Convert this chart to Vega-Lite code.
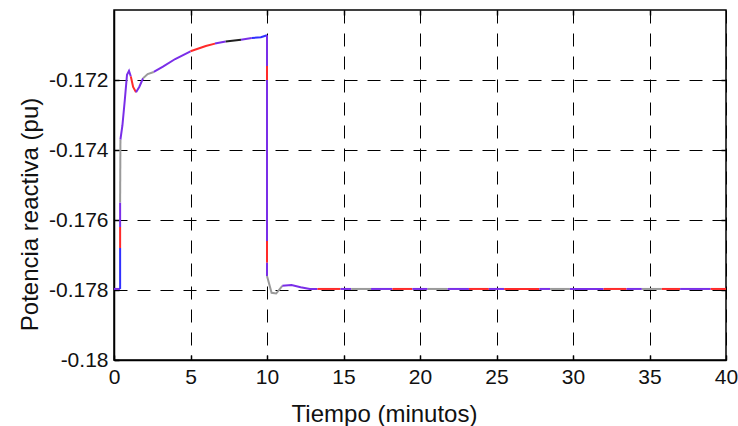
{
  "$schema": "https://vega.github.io/schema/vega-lite/v6.json",
  "width": 612,
  "height": 350,
  "autosize": {"type": "none"},
  "padding": {"left": 114, "top": 10, "right": 12, "bottom": 66},
  "background": "white",
  "config": {
    "font": "Liberation Sans",
    "view": {"stroke": "black", "strokeWidth": 1.5},
    "axis": {
      "domainColor": "black",
      "domainWidth": 1.5,
      "tickColor": "black",
      "tickWidth": 1.5,
      "tickSize": -5,
      "labelColor": "#111111",
      "labelFontSize": 21,
      "labelFont": "Liberation Sans",
      "titleFont": "Liberation Sans",
      "titleFontSize": 24,
      "titleFontWeight": "normal",
      "titleColor": "#111111",
      "gridColor": "black",
      "gridOpacity": 1,
      "gridWidth": 1,
      "gridDash": [13, 10],
      "labelFlush": false,
      "labelOverlap": false
    }
  },
  "data": {
    "values": [
      {"g": 1, "c": "m", "i": 0, "t": 0, "q": -0.17797},
      {"g": 1, "c": "m", "i": 1, "t": 0.4, "q": -0.17797},
      {"g": 2, "c": "b", "i": 1, "t": 0.4, "q": -0.17797},
      {"g": 2, "c": "b", "i": 2, "t": 0.4, "q": -0.1768},
      {"g": 3, "c": "r", "i": 2, "t": 0.4, "q": -0.1768},
      {"g": 3, "c": "r", "i": 3, "t": 0.4, "q": -0.1762},
      {"g": 4, "c": "m", "i": 3, "t": 0.4, "q": -0.1762},
      {"g": 4, "c": "m", "i": 4, "t": 0.4, "q": -0.1755},
      {"g": 5, "c": "g", "i": 4, "t": 0.4, "q": -0.1755},
      {"g": 5, "c": "g", "i": 5, "t": 0.42, "q": -0.1737},
      {"g": 6, "c": "m", "i": 5, "t": 0.42, "q": -0.1737},
      {"g": 6, "c": "m", "i": 6, "t": 0.55, "q": -0.1733},
      {"g": 6, "c": "m", "i": 7, "t": 0.7, "q": -0.1726},
      {"g": 6, "c": "m", "i": 8, "t": 0.85, "q": -0.17185},
      {"g": 6, "c": "m", "i": 9, "t": 0.98, "q": -0.17174},
      {"g": 6, "c": "m", "i": 10, "t": 1.1, "q": -0.1719},
      {"g": 7, "c": "r", "i": 10, "t": 1.1, "q": -0.1719},
      {"g": 7, "c": "r", "i": 11, "t": 1.25, "q": -0.1722},
      {"g": 7, "c": "r", "i": 12, "t": 1.44, "q": -0.17235},
      {"g": 8, "c": "m", "i": 12, "t": 1.44, "q": -0.17235},
      {"g": 8, "c": "m", "i": 13, "t": 1.65, "q": -0.1722},
      {"g": 8, "c": "m", "i": 14, "t": 1.9, "q": -0.17195},
      {"g": 9, "c": "g", "i": 14, "t": 1.9, "q": -0.17195},
      {"g": 9, "c": "g", "i": 15, "t": 2.2, "q": -0.17183},
      {"g": 9, "c": "g", "i": 16, "t": 2.6, "q": -0.17177},
      {"g": 10, "c": "m", "i": 16, "t": 2.6, "q": -0.17177},
      {"g": 10, "c": "m", "i": 17, "t": 3.2, "q": -0.17162},
      {"g": 10, "c": "m", "i": 18, "t": 4, "q": -0.1714},
      {"g": 10, "c": "m", "i": 19, "t": 5, "q": -0.17118},
      {"g": 11, "c": "r", "i": 19, "t": 5, "q": -0.17118},
      {"g": 11, "c": "r", "i": 20, "t": 6, "q": -0.17103},
      {"g": 11, "c": "r", "i": 21, "t": 6.6, "q": -0.17096},
      {"g": 12, "c": "m", "i": 21, "t": 6.6, "q": -0.17096},
      {"g": 12, "c": "m", "i": 22, "t": 7.3, "q": -0.1709},
      {"g": 13, "c": "k", "i": 22, "t": 7.3, "q": -0.1709},
      {"g": 13, "c": "k", "i": 23, "t": 8.3, "q": -0.17085},
      {"g": 14, "c": "m", "i": 23, "t": 8.3, "q": -0.17085},
      {"g": 14, "c": "m", "i": 24, "t": 9, "q": -0.1708},
      {"g": 15, "c": "b", "i": 24, "t": 9, "q": -0.1708},
      {"g": 15, "c": "b", "i": 25, "t": 9.6, "q": -0.17078},
      {"g": 15, "c": "b", "i": 26, "t": 10, "q": -0.17072},
      {"g": 16, "c": "m", "i": 26, "t": 10, "q": -0.17072},
      {"g": 16, "c": "m", "i": 27, "t": 10, "q": -0.1716},
      {"g": 17, "c": "r", "i": 27, "t": 10, "q": -0.1716},
      {"g": 17, "c": "r", "i": 28, "t": 10, "q": -0.172},
      {"g": 18, "c": "m", "i": 28, "t": 10, "q": -0.172},
      {"g": 18, "c": "m", "i": 29, "t": 10, "q": -0.1766},
      {"g": 19, "c": "r", "i": 29, "t": 10, "q": -0.1766},
      {"g": 19, "c": "r", "i": 30, "t": 10, "q": -0.17722},
      {"g": 20, "c": "m", "i": 30, "t": 10, "q": -0.17722},
      {"g": 20, "c": "m", "i": 31, "t": 10, "q": -0.1776},
      {"g": 21, "c": "g", "i": 31, "t": 10, "q": -0.1776},
      {"g": 21, "c": "g", "i": 32, "t": 10.05, "q": -0.17768},
      {"g": 21, "c": "g", "i": 33, "t": 10.3, "q": -0.17808},
      {"g": 21, "c": "g", "i": 34, "t": 10.6, "q": -0.1781},
      {"g": 21, "c": "g", "i": 35, "t": 11, "q": -0.17788},
      {"g": 22, "c": "m", "i": 35, "t": 11, "q": -0.17788},
      {"g": 22, "c": "m", "i": 36, "t": 11.6, "q": -0.17786},
      {"g": 22, "c": "m", "i": 37, "t": 12.2, "q": -0.17792},
      {"g": 22, "c": "m", "i": 38, "t": 12.8, "q": -0.17797},
      {"g": 22, "c": "m", "i": 39, "t": 13.3, "q": -0.17797},
      {"g": 23, "c": "r", "i": 39, "t": 13.3, "q": -0.17797},
      {"g": 23, "c": "r", "i": 40, "t": 14.8, "q": -0.17797},
      {"g": 24, "c": "m", "i": 40, "t": 14.8, "q": -0.17797},
      {"g": 24, "c": "m", "i": 41, "t": 15.5, "q": -0.17797},
      {"g": 25, "c": "g", "i": 41, "t": 15.5, "q": -0.17797},
      {"g": 25, "c": "g", "i": 42, "t": 16.8, "q": -0.17797},
      {"g": 26, "c": "m", "i": 42, "t": 16.8, "q": -0.17797},
      {"g": 26, "c": "m", "i": 43, "t": 18.2, "q": -0.17797},
      {"g": 27, "c": "r", "i": 43, "t": 18.2, "q": -0.17797},
      {"g": 27, "c": "r", "i": 44, "t": 19.5, "q": -0.17797},
      {"g": 28, "c": "m", "i": 44, "t": 19.5, "q": -0.17797},
      {"g": 28, "c": "m", "i": 45, "t": 20.5, "q": -0.17797},
      {"g": 29, "c": "g", "i": 45, "t": 20.5, "q": -0.17797},
      {"g": 29, "c": "g", "i": 46, "t": 21.8, "q": -0.17797},
      {"g": 30, "c": "m", "i": 46, "t": 21.8, "q": -0.17797},
      {"g": 30, "c": "m", "i": 47, "t": 23.2, "q": -0.17797},
      {"g": 31, "c": "r", "i": 47, "t": 23.2, "q": -0.17797},
      {"g": 31, "c": "r", "i": 48, "t": 24.5, "q": -0.17797},
      {"g": 32, "c": "m", "i": 48, "t": 24.5, "q": -0.17797},
      {"g": 32, "c": "m", "i": 49, "t": 25.5, "q": -0.17797},
      {"g": 33, "c": "r", "i": 49, "t": 25.5, "q": -0.17797},
      {"g": 33, "c": "r", "i": 50, "t": 27.8, "q": -0.17797},
      {"g": 34, "c": "m", "i": 50, "t": 27.8, "q": -0.17797},
      {"g": 34, "c": "m", "i": 51, "t": 28.5, "q": -0.17797},
      {"g": 35, "c": "g", "i": 51, "t": 28.5, "q": -0.17797},
      {"g": 35, "c": "g", "i": 52, "t": 29.8, "q": -0.17797},
      {"g": 36, "c": "m", "i": 52, "t": 29.8, "q": -0.17797},
      {"g": 36, "c": "m", "i": 53, "t": 32, "q": -0.17797},
      {"g": 37, "c": "r", "i": 53, "t": 32, "q": -0.17797},
      {"g": 37, "c": "r", "i": 54, "t": 33.5, "q": -0.17797},
      {"g": 38, "c": "m", "i": 54, "t": 33.5, "q": -0.17797},
      {"g": 38, "c": "m", "i": 55, "t": 34.5, "q": -0.17797},
      {"g": 39, "c": "g", "i": 55, "t": 34.5, "q": -0.17797},
      {"g": 39, "c": "g", "i": 56, "t": 35.8, "q": -0.17797},
      {"g": 40, "c": "r", "i": 56, "t": 35.8, "q": -0.17797},
      {"g": 40, "c": "r", "i": 57, "t": 37, "q": -0.17797},
      {"g": 41, "c": "m", "i": 57, "t": 37, "q": -0.17797},
      {"g": 41, "c": "m", "i": 58, "t": 39, "q": -0.17797},
      {"g": 42, "c": "r", "i": 58, "t": 39, "q": -0.17797},
      {"g": 42, "c": "r", "i": 59, "t": 40, "q": -0.17797}
    ]
  },
  "layer": [
    {
      "mark": {"type": "line", "strokeWidth": 2, "clip": true},
      "encoding": {
        "x": {
          "field": "t", "type": "quantitative",
          "scale": {"domain": [0, 40], "nice": false, "zero": false},
          "axis": {
            "orient": "bottom",
            "values": [0, 5, 10, 15, 20, 25, 30, 35, 40],
            "grid": true,
            "labelPadding": 11,
            "title": "Tiempo (minutos)",
            "titleX": 270,
            "titleY": 61,
            "titleBaseline": "alphabetic",
            "titleAlign": "center"
          }
        },
        "y": {
          "field": "q", "type": "quantitative",
          "scale": {"domain": [-0.18, -0.17], "nice": false, "zero": false},
          "axis": {
            "orient": "left",
            "values": [-0.18, -0.178, -0.176, -0.174, -0.172],
            "format": "~g",
            "labelExpr": "replace(datum.label, '\u2212', '-')",
            "grid": true,
            "labelPadding": 11,
            "labelBaseline": "middle",
            "title": "Potencia reactiva (pu)",
            "titleX": -77,
            "titleY": 204,
            "titleAngle": -90,
            "titleBaseline": "alphabetic",
            "titleAlign": "center"
          }
        },
        "detail": {"field": "g"},
        "order": {"field": "i"},
        "color": {
          "field": "c", "type": "nominal",
          "scale": {"domain": ["m", "b", "r", "g", "k"], "range": ["#7a2ee8", "#3030ff", "#ff2a2a", "#9a9a9a", "#202020"]},
          "legend": null
        }
      }
    },
    {
      "mark": {"type": "point", "opacity": 0},
      "encoding": {
        "x": {
          "field": "t", "type": "quantitative",
          "scale": {"domain": [0, 40], "nice": false, "zero": false},
          "axis": {"orient": "top", "values": [5, 10, 15, 20, 25, 30, 35], "labels": false, "domain": false, "grid": false, "title": null}
        },
        "y": {
          "field": "q", "type": "quantitative",
          "scale": {"domain": [-0.18, -0.17], "nice": false, "zero": false},
          "axis": {"orient": "right", "values": [-0.178, -0.176, -0.174, -0.172], "labels": false, "domain": false, "grid": false, "title": null}
        }
      }
    }
  ],
  "resolve": {"axis": {"x": "independent", "y": "independent"}}
}
